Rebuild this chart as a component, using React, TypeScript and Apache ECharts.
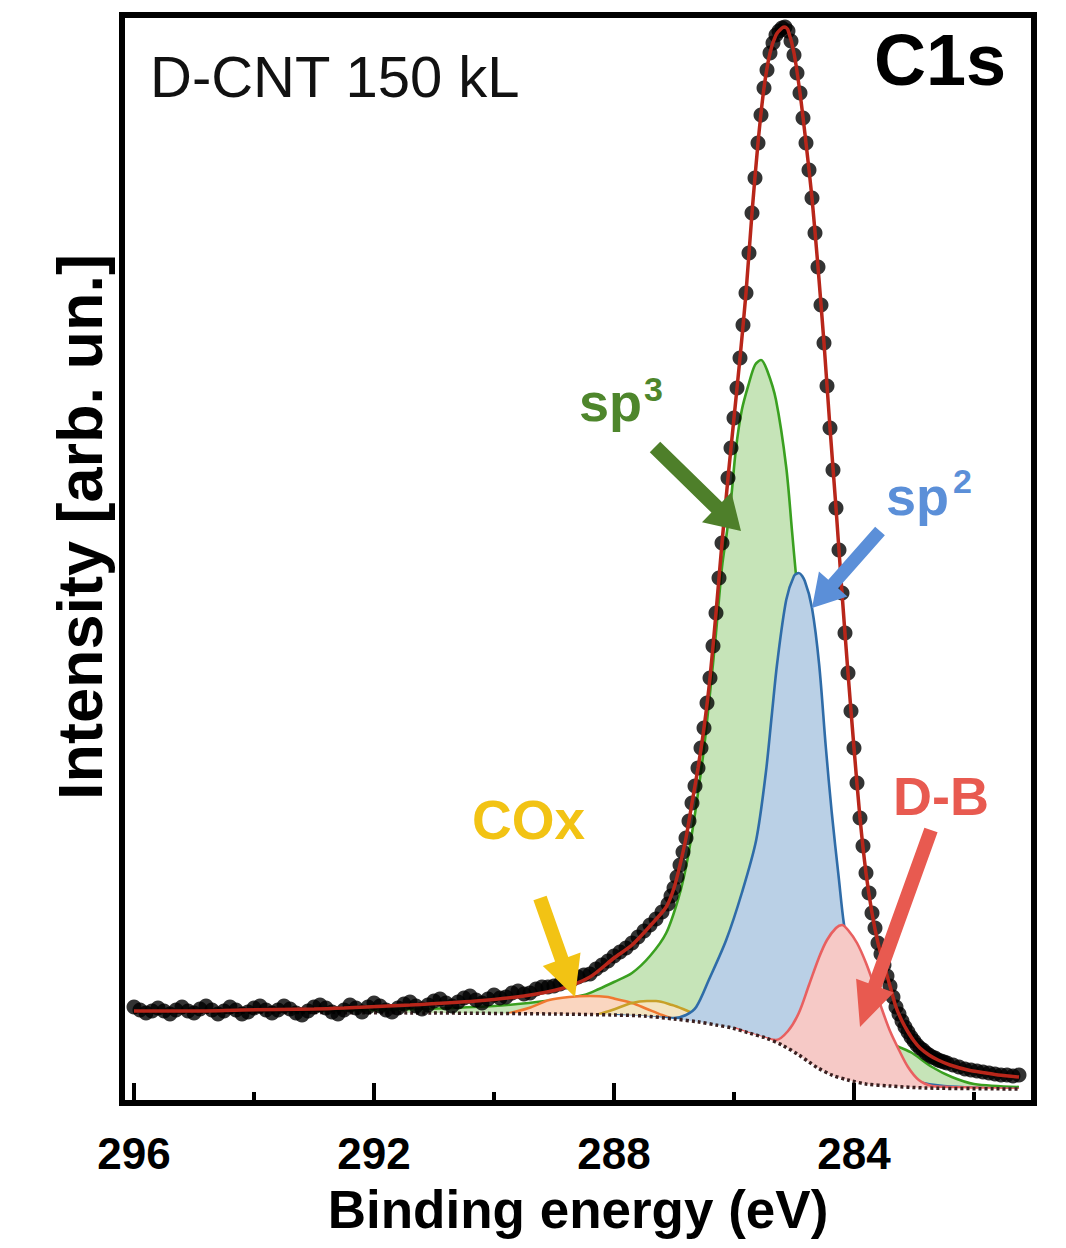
import React, { useEffect, useRef } from "react";
import * as echarts from "echarts";

// ---- measured data points (black dots), three sampling segments ----
const dotsAStart = 296.0;
const dotsAStep = 0.1;
const dotsA = [
  96, 93, 90, 92, 95, 92, 89, 93, 96, 92,
  90, 94, 97, 93, 89, 92, 96, 93, 89, 91,
  95, 97, 93, 90, 93, 97, 94, 90, 88, 92,
  96, 98, 95, 91, 89, 93, 98, 95, 91, 96,
  100, 97, 93, 91, 95, 99, 101, 97, 94, 98,
  102, 104, 100, 97, 101, 105, 107, 103, 100, 104,
  108, 105, 106, 110, 112, 109, 110, 114, 116, 116,
  117, 119, 121, 123, 126, 128, 129, 134, 138, 142,
  147, 151, 155, 160, 166, 172, 178, 184, 191, 199,
];
const dotsBStart = 287.05;
const dotsBStep = 0.05;
const dotsB = [
  207, 215, 226, 238, 251, 265, 282, 300, 317, 335,
  355, 375, 400, 425, 457, 490, 525, 560, 592, 625,
  655, 685, 715, 745, 778, 810, 850, 890, 925, 960,
  988, 1015, 1033, 1050, 1060, 1068, 1072, 1075, 1076, 1072,
  1062, 1048, 1030, 1010, 985, 960, 933, 905, 870, 836,
  798, 760, 717, 675, 633, 595, 553, 510, 470, 430,
  392, 355, 320, 285, 257, 230, 210, 190, 175, 160,
  149, 138, 127, 117, 106, 96, 89, 82, 76, 71,
  66, 62, 58, 55, 53, 50, 48, 46, 45, 43,
  42, 41,
];
const dotsCStart = 282.45;
const dotsCStep = 0.1;
const dotsC = [40, 38, 36, 34, 33, 32, 31, 30, 29, 28, 28, 27, 28];

// ---- fit envelope (red) ----
const fitE = [296.0, 295.0, 294.2, 293.0, 292.5, 291.4, 290.3, 289.5, 288.9, 288.4, 288.0, 287.7, 287.4, 287.13, 287.0, 286.9, 286.8, 286.7, 286.6, 286.5, 286.4, 286.3, 286.2, 286.1, 286.0, 285.9, 285.8, 285.7, 285.6, 285.5, 285.4, 285.3, 285.2, 285.15, 285.1, 285.0, 284.9, 284.8, 284.7, 284.6, 284.5, 284.4, 284.3, 284.2, 284.1, 284.0, 283.9, 283.8, 283.7, 283.6, 283.5, 283.4, 283.3, 283.2, 283.1, 283.0, 282.9, 282.75, 282.6, 282.4, 282.1, 281.8, 281.6, 281.25];
const fitV = [92, 92, 93, 94, 95, 98, 102, 107, 114, 126, 145, 158, 177, 196, 215, 238, 265, 300, 335, 375, 425, 490, 560, 625, 685, 745, 810, 890, 960, 1015, 1050, 1068, 1075, 1076, 1073, 1050, 1010, 960, 905, 836, 760, 675, 595, 510, 430, 355, 285, 230, 190, 160, 138, 117, 96, 82, 71, 62, 55, 48, 43, 38, 33, 30, 28, 26];

// ---- sp3 component (green) ----
const sp3E = [296.0, 292.0, 290.0, 289.0, 288.5, 288.25, 288.0, 287.7, 287.4, 287.13, 286.92, 286.8, 286.7, 286.6, 286.5, 286.4, 286.3, 286.2, 286.12, 286.05, 285.97, 285.87, 285.75, 285.65, 285.55, 285.45, 285.3, 285.13, 285.03, 284.97, 284.8, 284.6, 284.4, 284.2, 284.0, 283.8, 283.6, 283.37, 283.03, 282.7, 282.37, 282.0, 281.25];
const sp3V = [91, 93, 97, 103, 108, 114, 121, 130, 147, 170, 206, 236, 270, 310, 355, 410, 470, 536, 570, 603, 653, 693, 720, 738, 743, 733, 703, 636, 570, 530, 430, 320, 230, 160, 115, 90, 75, 60, 50, 36, 26, 19, 16];

// ---- sp2 component (blue) ----
const sp2E = [288.0, 287.0, 286.8, 286.63, 286.42, 286.13, 285.87, 285.63, 285.47, 285.37, 285.28, 285.13, 285.0, 284.92, 284.82, 284.7, 284.58, 284.47, 284.37, 284.25, 284.17, 284.0, 283.8, 283.5, 283.2, 283.0, 282.5, 281.25];
const sp2V = [88, 85, 88, 96, 123, 163, 210, 263, 330, 388, 440, 503, 527, 530, 522, 495, 438, 356, 290, 223, 180, 118, 78, 45, 28, 22, 17, 14];

// ---- D-B component (red) ----
const dbE = [286.0, 285.6, 285.3, 285.1, 284.92, 284.75, 284.58, 284.45, 284.3, 284.2, 284.1, 283.95, 283.8, 283.65, 283.53, 283.4, 283.25, 283.1, 282.92, 282.7, 282.4, 281.25];
const dbV = [75, 67, 63, 72, 90, 118, 146, 163, 175, 178, 173, 160, 140, 115, 93, 72, 53, 36, 23, 17, 16, 14];

// ---- COx components ----
const cox1E = [289.8, 289.42, 289.08, 288.75, 288.4, 288.1, 287.97, 287.7, 287.45, 287.2, 287.0];
const cox1V = [89, 95, 103, 106, 107, 106, 104, 100, 94, 88, 84];
const cox2E = [288.3, 288.03, 287.7, 287.45, 287.3, 287.03, 286.85, 286.7, 286.58, 286.4];
const cox2V = [88, 93, 100, 102, 102, 98, 94, 90, 86, 80];

// ---- background (dotted) ----
const bgE = [296.0, 291.0, 289.0, 288.0, 287.5, 287.0, 286.58, 286.3, 286.03, 285.75, 285.47, 285.2, 284.92, 284.75, 284.6, 284.37, 284.1, 283.8, 283.4, 282.8, 281.25];
const bgV = [91, 90, 89, 88, 87, 84, 81, 78, 75, 70, 65, 58, 48, 41, 35, 28, 23, 19, 17, 15, 14];

// ---- axis ----
const majorTicks = [284, 288, 292, 296];
const minorTicks = [282, 286, 290, 294];
const xMin = 281.0;
const xMax = 296.2;
const yMax = 1088;

const FONT = "'Liberation Sans', Arial, Helvetica, sans-serif";

const zip = (e: number[], v: number[]) => e.map((x, i) => [x, v[i]]);
const seg = (start: number, step: number, vals: number[]) =>
  vals.map((v, i) => [+(start - i * step).toFixed(3), v]);

function arrowPts(x1: number, y1: number, x2: number, y2: number, sw: number, hw: number, hl: number) {
  const dx = x2 - x1, dy = y2 - y1;
  const L = Math.hypot(dx, dy);
  const ux = dx / L, uy = dy / L;
  const px = -uy, py = ux;
  const bx = x2 - ux * hl, by = y2 - uy * hl;
  return [
    [x1 + (px * sw) / 2, y1 + (py * sw) / 2],
    [bx + (px * sw) / 2, by + (py * sw) / 2],
    [bx + (px * hw) / 2, by + (py * hw) / 2],
    [x2, y2],
    [bx - (px * hw) / 2, by - (py * hw) / 2],
    [bx - (px * sw) / 2, by - (py * sw) / 2],
    [x1 - (px * sw) / 2, y1 - (py * sw) / 2],
  ];
}

export default function App() {
  const ref = useRef<HTMLDivElement>(null);
  useEffect(() => {
    if (!ref.current) return;
    const chart = echarts.init(ref.current, undefined, { renderer: "svg" });

    const comp = (name: string, data: number[][], color: string, fill: string, z: number) => ({
      type: "line",
      name,
      data,
      smooth: 0.3,
      symbol: "none",
      silent: true,
      z,
      lineStyle: { color, width: 2.6 },
      areaStyle: { color: fill, opacity: 1, origin: "start" },
    });

    const dots = [
      ...seg(dotsAStart, dotsAStep, dotsA),
      ...seg(dotsBStart, dotsBStep, dotsB),
      ...seg(dotsCStart, dotsCStep, dotsC),
    ];

    const arrow = (pts: number[][], color: string) => ({
      type: "polygon",
      z: 100,
      shape: { points: pts },
      style: { fill: color },
    });
    const label = (text: string, x: number, y: number, size: number, color: string, weight = "bold") => ({
      type: "text",
      z: 100,
      x,
      y,
      style: {
        text,
        fill: color,
        font: `${weight} ${size}px ${FONT}`,
        textAlign: "left",
        textVerticalAlign: "middle",
      },
    });

    chart.setOption({
      animation: false,
      backgroundColor: "#ffffff",
      grid: {
        left: 122,
        right: 32,
        top: 15,
        bottom: 145,
        show: true,
        borderColor: "#000",
        borderWidth: 6,
        backgroundColor: "transparent",
        z: 30,
      },
      xAxis: [
        {
          type: "value",
          min: xMin,
          max: xMax,
          inverse: true,
          position: "bottom",
          z: 30,
          axisLine: { show: false },
          splitLine: { show: false },
          axisTick: {
            show: true,
            inside: true,
            length: 20,
            customValues: majorTicks,
            lineStyle: { color: "#000", width: 4 },
          },
          axisLabel: {
            show: true,
            customValues: majorTicks,
            fontSize: 44,
            fontWeight: "bold",
            fontFamily: FONT,
            color: "#000",
            margin: 28,
          },
          name: "Binding energy (eV)",
          nameLocation: "middle",
          nameGap: 80,
          nameTextStyle: { fontSize: 53, fontWeight: "bold", fontFamily: FONT, color: "#000" },
        },
        {
          type: "value",
          min: xMin,
          max: xMax,
          inverse: true,
          position: "bottom",
          z: 30,
          axisLine: { show: false },
          splitLine: { show: false },
          axisTick: {
            show: true,
            inside: true,
            length: 11,
            customValues: minorTicks,
            lineStyle: { color: "#000", width: 4 },
          },
          axisLabel: { show: false },
        },
      ],
      yAxis: { type: "value", min: 0, max: yMax, show: false },
      series: [
        comp("sp3", zip(sp3E, sp3V), "#3aa020", "#c6e4b8", 2),
        comp("COx-1", zip(cox1E, cox1V), "#f07830", "#fad6c0", 3),
        comp("COx-2", zip(cox2E, cox2V), "#c8a028", "#f3e4c0", 3),
        comp("sp2", zip(sp2E, sp2V), "#2f6ca8", "#bad0e6", 4),
        comp("D-B", zip(dbE, dbV), "#e86060", "#f6c9c6", 5),
        {
          type: "line",
          name: "Background",
          data: zip(bgE, bgV),
          smooth: 0.3,
          symbol: "none",
          silent: true,
          z: 6,
          lineStyle: { color: "#3a2020", width: 3.5, type: [3, 3] },
          areaStyle: { color: "#ffffff", opacity: 1, origin: "start" },
        },
        {
          type: "scatter",
          name: "Data",
          data: dots,
          symbol: "circle",
          symbolSize: 15,
          silent: true,
          z: 8,
          itemStyle: { color: "#000000" },
        },
        {
          type: "line",
          name: "Fit",
          data: zip(fitE, fitV),
          smooth: 0.25,
          symbol: "none",
          silent: true,
          z: 9,
          lineStyle: { color: "#b8261a", width: 3.5 },
        },
      ],
      graphic: [
        label("D-CNT 150 kL", 150, 76, 58, "#111", "normal"),
        label("C1s", 874, 60, 72, "#000"),
        label("sp", 579, 402, 54, "#4e862c"),
        label("3", 644, 389, 34, "#4e862c"),
        label("sp", 886, 496, 54, "#5b8fd8"),
        label("2", 953, 481, 34, "#5b8fd8"),
        label("D-B", 893, 796, 54, "#e85a50"),
        label("COx", 472, 820, 55, "#f2c314"),
        {
          type: "text",
          z: 100,
          x: 80,
          y: 527,
          rotation: Math.PI / 2,
          style: {
            text: "Intensity [arb. un.]",
            fill: "#000",
            font: `bold 63px ${FONT}`,
            textAlign: "center",
            textVerticalAlign: "middle",
          },
        },
        arrow(arrowPts(655, 447, 741, 531, 15, 42, 34), "#4e7f2a"),
        arrow(arrowPts(880, 531, 812, 608, 13, 38, 32), "#5b8fd8"),
        arrow(arrowPts(931, 830, 860, 1027, 14, 40, 44), "#e85a50"),
        arrow(arrowPts(540, 898, 575, 997, 14, 40, 40), "#f2c314"),
      ],
    });
    return () => chart.dispose();
  }, []);
  return (
    <div
      ref={ref}
      style={{ position: "fixed", left: 0, top: 0, width: 1066, height: 1248, background: "#fff" }}
    />
  );
}
